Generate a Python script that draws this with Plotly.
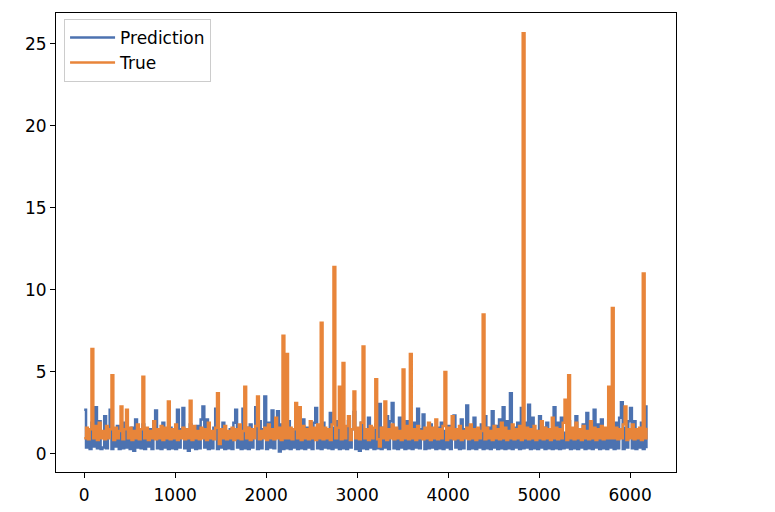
import plotly.graph_objects as go

# sample spacing along the index axis (0..6195)
step = 20

prediction = [
    2.7, 0.4, 1.4, 0.3, 1.9, 0.45, 2.85, 0.35, 2.0, 0.3,
    0.4, 2.3, 0.35, 1.6, 2.7, 0.3, 1.2, 0.45, 1.7, 0.3,
    1.3, 0.35, 1.9, 0.4, 1.2, 0.3, 1.6, 0.2, 2.1, 0.4,
    1.4, 0.35, 1.8, 0.3, 1.2, 0.45, 1.5, 0.3, 2.0, 2.65,
    0.35, 1.3, 0.3, 1.9, 0.4, 1.2, 0.3, 1.6, 0.35, 1.4,
    0.3, 2.7, 0.4, 1.5, 2.8, 0.35, 1.3, 0.2, 1.8, 0.4,
    1.2, 0.3, 1.7, 0.35, 2.1, 2.9, 0.4, 2.1, 0.3, 1.3,
    0.35, 1.6, 2.75, 0.3, 1.4, 0.4, 1.9, 0.3, 1.2, 0.35,
    1.5, 0.3, 1.9, 2.7, 0.4, 1.3, 0.3, 2.75, 0.35, 1.6,
    0.3, 1.8, 0.4, 1.4, 2.85, 0.3, 2.0, 0.35, 1.5, 3.5,
    0.3, 1.9, 0.4, 2.65, 0.35, 1.3, 2.6, 0.15, 1.8, 0.3,
    1.4, 0.35, 2.0, 0.3, 1.3, 0.4, 1.7, 0.3, 1.2, 0.35,
    2.1, 0.3, 1.6, 0.4, 1.3, 0.3, 1.9, 2.8, 0.35, 1.4,
    0.3, 1.9, 0.4, 1.3, 0.35, 2.5, 0.3, 1.6, 0.4, 2.0,
    0.3, 2.65, 0.35, 1.6, 0.3, 2.0, 0.4, 1.5, 2.55, 0.3,
    1.3, 0.2, 1.9, 0.35, 1.5, 0.3, 2.2, 0.4, 1.3, 0.3,
    1.8, 0.35, 3.05, 0.3, 1.6, 0.4, 2.3, 0.3, 2.0, 3.1,
    0.35, 1.4, 0.3, 2.2, 0.4, 1.7, 0.3, 2.0, 0.35, 1.6,
    0.3, 1.9, 0.4, 2.75, 0.35, 1.5, 2.4, 0.3, 1.3, 0.35,
    1.8, 0.4, 1.2, 0.3, 1.6, 0.35, 1.9, 0.3, 1.4, 0.4,
    1.7, 0.3, 1.3, 2.35, 0.4, 1.4, 0.3, 2.1, 0.35, 1.5,
    2.95, 0.3, 1.5, 0.35, 2.2, 0.3, 1.3, 0.4, 1.8, 0.3,
    2.3, 0.35, 1.6, 0.3, 2.6, 0.4, 1.7, 0.3, 2.1, 0.35,
    2.85, 0.3, 2.0, 0.35, 3.7, 0.3, 1.6, 0.4, 1.9, 0.3,
    2.8, 0.35, 1.9, 0.4, 3.0, 0.3, 2.2, 0.35, 1.4, 0.3,
    2.3, 0.4, 1.6, 0.3, 1.9, 0.35, 1.3, 0.3, 2.85, 0.35,
    1.9, 0.3, 2.2, 0.35, 1.3, 0.4, 2.0, 0.3, 1.5, 0.35,
    2.3, 0.3, 1.5, 0.4, 1.8, 0.3, 2.5, 0.35, 1.4, 0.3,
    2.7, 0.4, 1.8, 0.3, 2.1, 0.35, 1.4, 0.3, 2.1, 0.4,
    1.3, 0.3, 1.9, 0.35, 2.2, 3.15, 0.3, 1.6, 0.4, 2.0,
    2.8, 0.35, 2.0, 0.3, 1.5, 0.4, 1.9, 0.3, 2.9, 0.35,
]

true_vals = [
    0.95, 1.6, 0.9, 1.5, 6.4, 0.95, 1.7, 0.85, 1.9, 0.95,
    1.4, 0.9, 1.7, 0.95, 1.5, 4.8, 0.85, 1.6, 0.95, 1.4,
    2.9, 0.9, 1.5, 2.7, 0.95, 1.6, 0.85, 1.4, 0.95, 1.8,
    0.9, 1.5, 4.7, 0.95, 1.6, 0.85, 1.4, 0.95, 2.0, 0.9,
    1.5, 0.95, 1.7, 0.85, 1.6, 0.95, 3.2, 0.9, 1.5, 0.95,
    1.8, 0.85, 1.4, 0.95, 1.6, 0.9, 1.5, 0.95, 3.25, 0.85,
    1.7, 0.95, 1.4, 0.9, 1.6, 0.95, 1.5, 0.85, 1.9, 0.95,
    1.4, 0.9, 1.6, 3.7, 0.6, 1.5, 0.95, 1.7, 0.9, 1.4,
    0.95, 1.6, 0.85, 1.5, 0.95, 1.8, 0.9, 1.4, 4.1, 0.95,
    1.6, 0.85, 1.5, 0.95, 1.7, 3.5, 0.9, 1.4, 0.95, 1.6,
    0.85, 1.8, 0.95, 1.5, 0.9, 2.2, 0.95, 1.6, 0.85, 7.2,
    0.95, 6.1, 0.95, 1.6, 0.9, 1.5, 3.1, 0.95, 2.85, 0.85,
    1.7, 0.95, 1.5, 0.9, 2.0, 0.95, 1.6, 0.85, 1.8, 0.95,
    8.0, 0.9, 1.6, 0.95, 1.5, 0.85, 1.8, 11.4, 0.95, 1.6,
    4.1, 0.9, 5.55, 0.95, 1.7, 2.3, 0.85, 1.5, 3.8, 0.95,
    1.6, 0.9, 1.9, 6.55, 0.95, 1.5, 0.85, 1.7, 0.95, 1.6,
    4.55, 0.9, 0.45, 1.6, 0.95, 3.2, 0.85, 1.5, 0.95, 1.8,
    0.9, 1.6, 0.95, 1.4, 0.85, 5.15, 0.95, 1.7, 0.9, 6.1,
    0.95, 1.5, 0.85, 1.7, 0.95, 1.4, 0.9, 1.6, 0.95, 1.9,
    0.85, 1.6, 0.95, 2.1, 0.9, 1.5, 0.95, 1.7, 5.0, 0.85,
    1.6, 0.95, 2.3, 0.9, 1.5, 0.95, 1.7, 0.85, 1.4, 0.95,
    1.6, 0.9, 1.8, 0.95, 1.5, 0.85, 1.6, 0.95, 1.4, 8.5,
    0.9, 1.6, 0.95, 1.4, 0.85, 1.7, 0.95, 1.5, 0.9, 1.9,
    0.95, 1.6, 0.85, 1.4, 0.95, 1.8, 0.9, 1.5, 0.95, 1.7,
    0.85, 25.65, 0.95, 1.6, 0.9, 1.5, 0.95, 1.7, 0.85, 1.4,
    0.95, 2.0, 0.9, 1.6, 0.95, 1.5, 0.85, 2.2, 0.95, 1.6,
    0.9, 1.5, 0.95, 1.9, 3.3, 0.85, 4.8, 0.95, 1.6, 0.9,
    1.9, 0.95, 1.5, 0.85, 1.7, 0.95, 1.4, 0.9, 2.0, 0.95,
    1.6, 0.85, 1.5, 0.95, 1.7, 0.9, 1.6, 0.95, 4.1, 0.95,
    8.9, 0.95, 1.6, 0.9, 1.5, 0.95, 1.8, 2.9, 0.85, 1.5,
    0.95, 1.8, 0.9, 1.5, 0.95, 1.6, 0.85, 11.0, 0.95, 1.6,
]

x_index = [i * step for i in range(len(prediction))]

x_ticks = [0, 1000, 2000, 3000, 4000, 5000, 6000]
y_ticks = [0, 5, 10, 15, 20, 25]

blue = "#4C72B0"
orange = "#E8853A"

fig = go.Figure()
fig.add_trace(go.Scatter(x=x_index, y=prediction, mode="lines", name="Prediction",
                         line=dict(color=blue, width=2.5, shape="hv")))
fig.add_trace(go.Scatter(x=x_index, y=true_vals, mode="lines", name="True",
                         line=dict(color=orange, width=2.5, shape="hv")))

font = dict(family="DejaVu Sans", size=17, color="black")
axis_common = dict(showgrid=False, zeroline=False, showline=True, mirror=True,
                   linecolor="black", linewidth=1, ticks="outside", ticklen=5,
                   tickwidth=1, tickcolor="black", tickfont=font)

fig.update_layout(
    width=767, height=504,
    margin=dict(l=48, r=99, t=5, b=40),
    paper_bgcolor="white", plot_bgcolor="white",
    font=font,
    xaxis=dict(range=[-310, 6505], tickvals=x_ticks, ticklabelstandoff=3, **axis_common),
    yaxis=dict(range=[-1.1, 26.88], tickvals=y_ticks, **axis_common),
    legend=dict(x=0.013, y=0.987, xanchor="left", yanchor="top",
                bgcolor="rgba(255,255,255,0.8)", bordercolor="#cccccc", borderwidth=1,
                font=font, itemwidth=45),
    showlegend=True,
)

fig.write_html("out.html")
